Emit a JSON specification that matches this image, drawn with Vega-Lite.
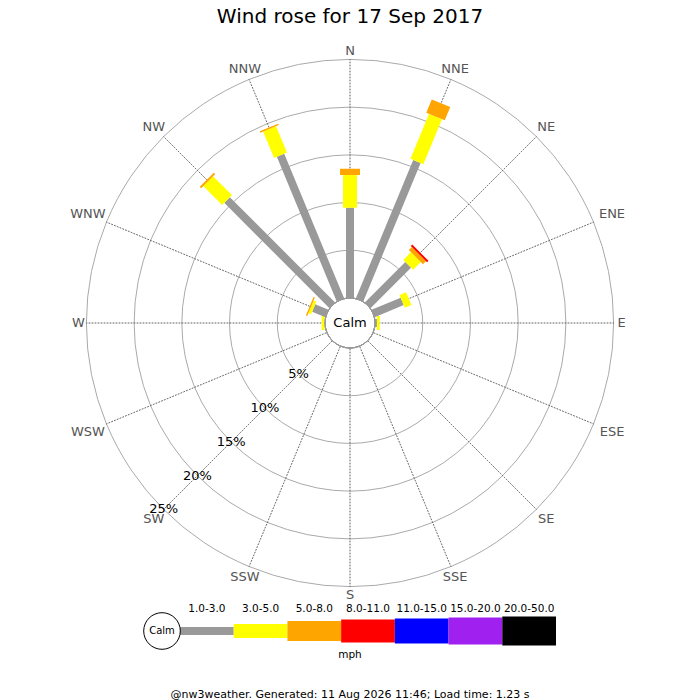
{
  "$schema": "https://vega.github.io/schema/vega-lite/v6.json",
  "padding": {"top": 7, "left": 0, "right": 0, "bottom": 0},
  "bounds": "flush",
  "spacing": 0,
  "background": "white",
  "title": {
    "text": "Wind rose for 17 Sep 2017",
    "fontSize": 20,
    "fontWeight": "normal",
    "color": "black",
    "anchor": "middle",
    "offset": 14
  },
  "datasets": {
    "rose": [
      {"dir": 0, "band": "1.0-3.0", "pct": 9.46},
      {"dir": 0, "band": "3.0-5.0", "pct": 3.42},
      {"dir": 0, "band": "5.0-8.0", "pct": 0.66},
      {"dir": 22.5, "band": "1.0-3.0", "pct": 15.7},
      {"dir": 22.5, "band": "3.0-5.0", "pct": 5.1},
      {"dir": 22.5, "band": "5.0-8.0", "pct": 1.5},
      {"dir": 45, "band": "1.0-3.0", "pct": 6.0},
      {"dir": 45, "band": "3.0-5.0", "pct": 1.15},
      {"dir": 45, "band": "5.0-8.0", "pct": 0.45},
      {"dir": 45, "band": "8.0-11.0", "pct": 0.2},
      {"dir": 67.5, "band": "1.0-3.0", "pct": 3.3},
      {"dir": 67.5, "band": "3.0-5.0", "pct": 0.75},
      {"dir": 90, "band": "1.0-3.0", "pct": 0.2},
      {"dir": 90, "band": "3.0-5.0", "pct": 0.3},
      {"dir": 270, "band": "1.0-3.0", "pct": 0.05},
      {"dir": 270, "band": "3.0-5.0", "pct": 0.3},
      {"dir": 292.5, "band": "1.0-3.0", "pct": 1.5},
      {"dir": 292.5, "band": "3.0-5.0", "pct": 0.3},
      {"dir": 292.5, "band": "5.0-8.0", "pct": 0.15},
      {"dir": 315, "band": "1.0-3.0", "pct": 15.6},
      {"dir": 315, "band": "3.0-5.0", "pct": 2.8},
      {"dir": 315, "band": "5.0-8.0", "pct": 0.2},
      {"dir": 337.5, "band": "1.0-3.0", "pct": 16.4},
      {"dir": 337.5, "band": "3.0-5.0", "pct": 3.0},
      {"dir": 337.5, "band": "5.0-8.0", "pct": 0.15}
    ],
    "dirs": [
      {"dir": 0, "name": "N"},
      {"dir": 22.5, "name": "NNE"},
      {"dir": 45, "name": "NE"},
      {"dir": 67.5, "name": "ENE"},
      {"dir": 90, "name": "E"},
      {"dir": 112.5, "name": "ESE"},
      {"dir": 135, "name": "SE"},
      {"dir": 157.5, "name": "SSE"},
      {"dir": 180, "name": "S"},
      {"dir": 202.5, "name": "SSW"},
      {"dir": 225, "name": "SW"},
      {"dir": 247.5, "name": "WSW"},
      {"dir": 270, "name": "W"},
      {"dir": 292.5, "name": "WNW"},
      {"dir": 315, "name": "NW"},
      {"dir": 337.5, "name": "NNW"}
    ],
    "rings": [
      {"pct": 5, "label": "5%"},
      {"pct": 10, "label": "10%"},
      {"pct": 15, "label": "15%"},
      {"pct": 20, "label": "20%"},
      {"pct": 25, "label": "25%"}
    ],
    "bands": [
      {"band": "1.0-3.0", "lo": 1},
      {"band": "3.0-5.0", "lo": 3},
      {"band": "5.0-8.0", "lo": 5},
      {"band": "8.0-11.0", "lo": 8},
      {"band": "11.0-15.0", "lo": 11},
      {"band": "15.0-20.0", "lo": 15},
      {"band": "20.0-50.0", "lo": 20}
    ]
  },
  "vconcat": [
    {
      "width": 700,
      "height": 564,
      "layer": [
        {
          "data": {"name": "rings"},
          "mark": {"type": "arc", "filled": false, "stroke": "#aaaaaa", "strokeWidth": 1},
          "encoding": {
            "theta": {"value": 0},
            "theta2": {"value": 6.2832},
            "radius": {
              "field": "pct",
              "type": "quantitative",
              "stack": null,
              "scale": {"type": "linear", "domain": [0, 25], "range": [25, 263.6], "zero": false, "nice": false}
            }
          }
        },
        {
          "data": {"name": "dirs"},
          "mark": {"type": "arc", "filled": false, "stroke": "#555555", "strokeWidth": 0.9, "strokeDash": [1, 2]},
          "encoding": {
            "theta": {
              "field": "dir",
              "type": "quantitative",
              "stack": null,
              "scale": {"domain": [0, 360], "range": [0, 6.283185307179586]}
            },
            "theta2": {"field": "dir"},
            "radius": {"datum": 25},
            "radius2": {"datum": 0}
          }
        },
        {
          "data": {"name": "rose"},
          "mark": {"type": "arc", "filled": false},
          "encoding": {
            "theta": {"field": "dir", "type": "quantitative", "stack": null},
            "theta2": {"field": "dir"},
            "radius": {"field": "pct", "type": "quantitative", "stack": "zero"},
            "color": {
              "field": "band",
              "type": "nominal",
              "scale": {
                "domain": ["1.0-3.0", "3.0-5.0", "5.0-8.0", "8.0-11.0", "11.0-15.0", "15.0-20.0", "20.0-50.0"],
                "range": ["#999999", "#ffff00", "#ffa500", "#ff0000", "#0000ff", "#a020f0", "#000000"]
              },
              "legend": null
            },
            "strokeWidth": {
              "field": "band",
              "type": "ordinal",
              "scale": {
                "type": "ordinal",
                "domain": ["1.0-3.0", "3.0-5.0", "5.0-8.0", "8.0-11.0", "11.0-15.0", "15.0-20.0", "20.0-50.0"],
                "range": [8, 14, 20, 23, 25, 27, 29]
              },
              "legend": null
            },
            "order": {"field": "band", "sort": "ascending"}
          }
        },
        {
          "data": {"values": [{"t": "Calm"}]},
          "mark": {"type": "arc", "fill": "white", "stroke": "#999999", "strokeWidth": 1},
          "encoding": {
            "theta": {"value": 0},
            "theta2": {"value": 6.2832},
            "radius": {"datum": 0}
          }
        },
        {
          "data": {"values": [{"t": "Calm"}]},
          "mark": {"type": "text", "fontSize": 13, "color": "black"},
          "encoding": {"text": {"field": "t"}}
        },
        {
          "data": {"name": "rings"},
          "mark": {"type": "text", "fontSize": 13, "color": "black"},
          "encoding": {
            "theta": {"datum": 225},
            "radius": {"field": "pct", "type": "quantitative", "stack": null},
            "text": {"field": "label"}
          }
        },
        {
          "data": {"name": "dirs"},
          "transform": [{"filter": "length(datum.name) == 1"}],
          "mark": {"type": "text", "fontSize": 13, "color": "#555555", "radiusOffset": 8},
          "encoding": {
            "theta": {"field": "dir", "type": "quantitative"},
            "radius": {"datum": 25},
            "text": {"field": "name"}
          }
        },
        {
          "data": {"name": "dirs"},
          "transform": [{"filter": "length(datum.name) == 2"}],
          "mark": {"type": "text", "fontSize": 13, "color": "#555555", "radiusOffset": 14},
          "encoding": {
            "theta": {"field": "dir", "type": "quantitative"},
            "radius": {"datum": 25},
            "text": {"field": "name"}
          }
        },
        {
          "data": {"name": "dirs"},
          "transform": [{"filter": "indexof(['NNE', 'NNW', 'SSE', 'SSW'], datum.name) >= 0"}],
          "mark": {"type": "text", "fontSize": 13, "color": "#555555", "radiusOffset": 11},
          "encoding": {
            "theta": {"field": "dir", "type": "quantitative"},
            "radius": {"datum": 25},
            "text": {"field": "name"}
          }
        },
        {
          "data": {"name": "dirs"},
          "transform": [{"filter": "indexof(['ENE', 'ESE', 'WSW', 'WNW'], datum.name) >= 0"}],
          "mark": {"type": "text", "fontSize": 13, "color": "#555555", "radiusOffset": 20},
          "encoding": {
            "theta": {"field": "dir", "type": "quantitative"},
            "radius": {"datum": 25},
            "text": {"field": "name"}
          }
        }
      ]
    },
    {
      "width": 700,
      "height": 52,
      "layer": [
        {
          "data": {"name": "bands"},
          "mark": {"type": "bar"},
          "encoding": {
            "x": {
              "aggregate": "count",
              "type": "quantitative",
              "stack": "zero",
              "scale": {"domain": [0, 7], "range": [180, 556], "nice": false, "zero": false},
              "axis": null
            },
            "y": {"datum": "mph", "type": "nominal", "axis": null},
            "color": {
              "field": "band",
              "type": "nominal",
              "scale": {
                "domain": ["1.0-3.0", "3.0-5.0", "5.0-8.0", "8.0-11.0", "11.0-15.0", "15.0-20.0", "20.0-50.0"],
                "range": ["#999999", "#ffff00", "#ffa500", "#ff0000", "#0000ff", "#a020f0", "#000000"]
              },
              "legend": null
            },
            "size": {
              "field": "band",
              "type": "ordinal",
              "scale": {
                "type": "ordinal",
                "domain": ["1.0-3.0", "3.0-5.0", "5.0-8.0", "8.0-11.0", "11.0-15.0", "15.0-20.0", "20.0-50.0"],
                "range": [8, 14, 20, 23, 25, 27, 29]
              },
              "legend": null
            },
            "order": {"field": "lo", "type": "quantitative"}
          }
        },
        {
          "data": {"name": "bands"},
          "mark": {"type": "text", "fontSize": 10.5, "color": "black", "dy": -22.5},
          "encoding": {
            "x": {"aggregate": "count", "type": "quantitative", "stack": "zero", "bandPosition": 0.5},
            "y": {"datum": "mph", "type": "nominal"},
            "detail": {"field": "band"},
            "order": {"field": "lo", "type": "quantitative"},
            "text": {"field": "band"}
          }
        },
        {
          "data": {"values": [{"t": "Calm"}]},
          "mark": {"type": "point", "shape": "circle", "size": 1340, "filled": true, "fill": "white", "stroke": "black", "strokeWidth": 1, "opacity": 1},
          "encoding": {
            "x": {"datum": -0.335, "type": "quantitative"},
            "y": {"datum": "mph", "type": "nominal"}
          }
        },
        {
          "data": {"values": [{"t": "Calm"}]},
          "mark": {"type": "text", "fontSize": 10, "color": "black"},
          "encoding": {
            "x": {"datum": -0.335, "type": "quantitative"},
            "y": {"datum": "mph", "type": "nominal"},
            "text": {"field": "t"}
          }
        },
        {
          "data": {"values": [{"t": "mph"}]},
          "mark": {"type": "text", "fontSize": 10.5, "color": "black", "dy": 23.5},
          "encoding": {
            "y": {"datum": "mph", "type": "nominal"},
            "text": {"field": "t"}
          }
        },
        {
          "data": {"values": [{"t": "@nw3weather. Generated: 11 Aug 2026 11:46; Load time: 1.23 s"}]},
          "mark": {"type": "text", "fontSize": 11, "color": "black", "dy": 63.5},
          "encoding": {
            "y": {"datum": "mph", "type": "nominal"},
            "text": {"field": "t"}
          }
        }
      ]
    }
  ],
  "config": {
    "font": "DejaVu Sans",
    "view": {"stroke": null}
  }
}
